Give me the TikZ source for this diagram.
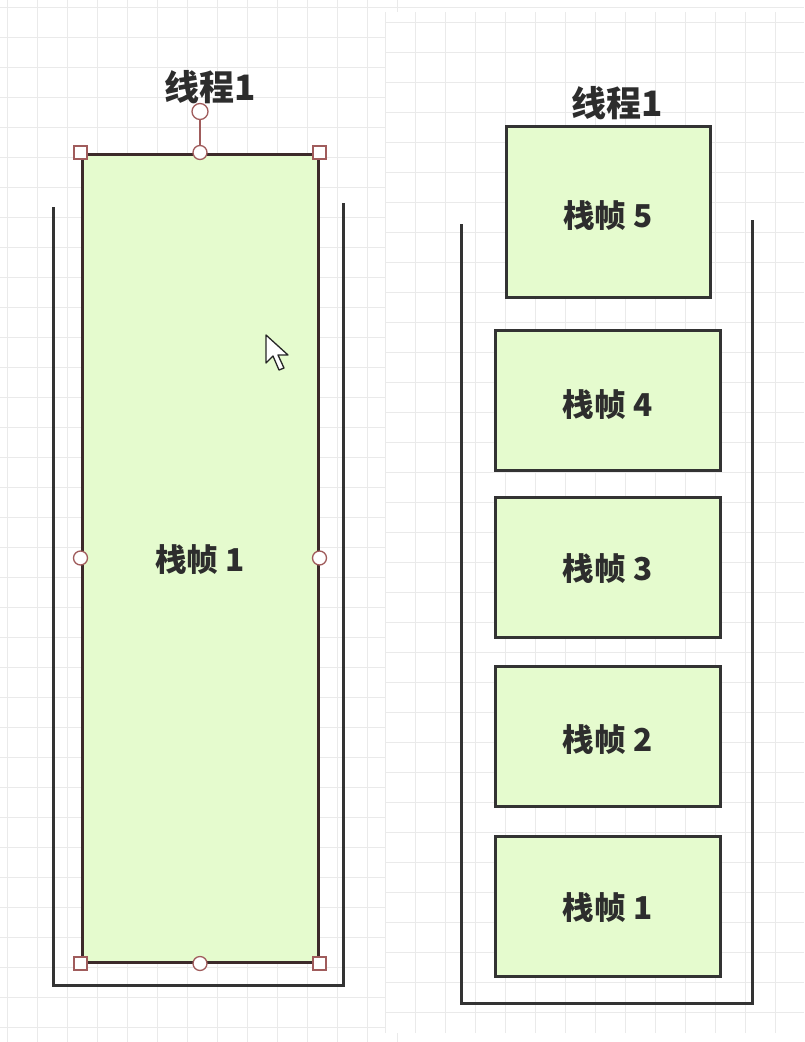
\documentclass[tikz,border=0pt]{standalone}
\usepackage{fontspec}
\setmainfont{Noto Sans CJK SC}
\definecolor{framefill}{RGB}{229,251,206}
\definecolor{frameline}{RGB}{51,51,51}
\definecolor{selline}{RGB}{60,42,42}
\definecolor{handle}{RGB}{160,92,92}
\definecolor{gridc}{RGB}{234,234,234}
\definecolor{textc}{RGB}{45,45,45}
\newcommand{\lowlabel}[2]{\raisebox{-#1}[\height][\depth]{#2}}
\begin{document}
\begin{tikzpicture}[x=1pt, y=-1pt,
  gridline/.style={gridc, line width=1pt},
  frame/.style={draw=frameline, fill=framefill, line width=3pt, inner sep=0pt,
    text=textc, font=\fontsize{31.5}{34}\selectfont\bfseries},
  title/.style={text=textc, inner sep=0pt, font=\fontsize{35}{38}\selectfont\bfseries},
  stackwall/.style={frameline, line width=3pt, line join=miter},
  sqhandle/.style={draw=handle, fill=white, line width=1.3pt, minimum size=13pt, inner sep=0pt},
  cirhandle/.style={draw=handle, fill=white, line width=1.3pt, circle, minimum size=14pt, inner sep=0pt}]
  \useasboundingbox (0,0) rectangle (804,1042);

  % Background grids of the two panes
  \foreach \gx in {7,37,...,397} \draw[gridline] (\gx,0) -- (\gx,1042);
  \foreach \gy in {7,37,...,1042} \draw[gridline] (0,\gy) -- (804,\gy);
  \fill[white] (385,12) rectangle (804,1033);
  \begin{scope}
    \clip (385,12) rectangle (804,1033);
    \foreach \gx in {385,415,...,804} \draw[gridline] (\gx,12) -- (\gx,1033);
    \foreach \gy in {22,52,...,1033} \draw[gridline] (385,\gy) -- (804,\gy);
  \end{scope}

  % Left: one big frame inside the stack
  \node[title] (t1) at (210,87) {线程1};
  \coordinate (l1top) at (53,207);
  \coordinate (l1bl) at (53,985);
  \coordinate (l1br) at (343,985);
  \coordinate (l1rt) at (343,203);
  \draw[stackwall] (l1top) -- (l1bl) -- (l1br) -- (l1rt);
  \node[frame, draw=selline, minimum width=236pt, minimum height=808pt] (big1) at (200,558) {\lowlabel{2pt}{栈帧 1}};

  % Selection handles
  \coordinate (rot) at ([yshift=41pt]big1.north);
  \draw[handle, line width=1.3pt] (big1.north) -- (rot);
  \node[cirhandle, minimum size=16pt] (hrot) at (rot) {};
  \foreach \a in {north west, north east, south west, south east}
    \node[sqhandle] (hs-\a) at (big1.\a) {};
  \foreach \a in {north, south, west, east}
    \node[cirhandle] (hc-\a) at (big1.\a) {};

  % Mouse pointer
  \draw[fill=white, draw=black!85, line width=1.3pt, line join=round]
    (266,335) -- (266,363) -- (273,356) -- (279,370) -- (284,368) -- (278,355) -- (288,355) -- cycle;

  % Right: five frames
  \node[title] (t2) at (617,103) {线程1};
  \coordinate (r1top) at (461,224);
  \coordinate (r1bl) at (461,1003);
  \coordinate (r1br) at (752,1003);
  \coordinate (r1rt) at (752,220);
  \draw[stackwall] (r1top) -- (r1bl) -- (r1br) -- (r1rt);
  \node[frame, minimum width=204pt, minimum height=171pt] (f5) at (608,211.5) {\lowlabel{4pt}{栈帧 5}};
  \node[frame, minimum width=225pt, minimum height=140pt] (f4) at (607.5,400.5) {\lowlabel{4pt}{栈帧 4}};
  \node[frame, minimum width=225pt, minimum height=140pt] (f3) at (607.5,567) {\lowlabel{2pt}{栈帧 3}};
  \node[frame, minimum width=225pt, minimum height=140pt] (f2) at (607.5,736) {\lowlabel{4pt}{栈帧 2}};
  \node[frame, minimum width=225pt, minimum height=140pt] (f1) at (607.5,906) {\lowlabel{2pt}{栈帧 1}};
\end{tikzpicture}
\end{document}
